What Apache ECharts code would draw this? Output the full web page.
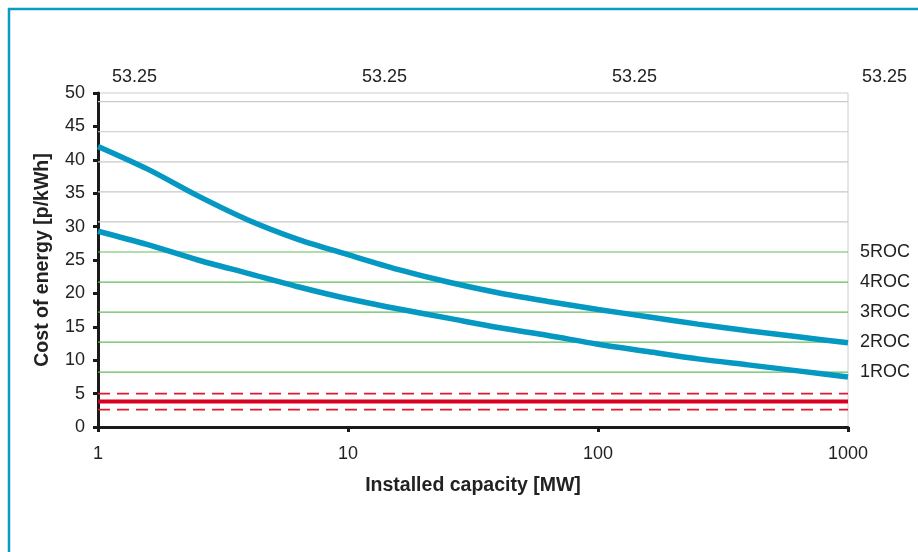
<!DOCTYPE html>
<html>
<head>
<meta charset="utf-8">
<script src="https://cdn.jsdelivr.net/npm/echarts@6/dist/echarts.min.js"></script>
<style>
  html, body { margin: 0; padding: 0; background: #fff; }
  #chart { width: 918px; height: 552px; }
</style>
</head>
<body>
<div id="chart"></div>
<script>
// data
var capacity = [1, 1.58, 2.51, 3.98, 6.31, 10, 15.8, 25.1, 39.8, 63.1, 100, 158, 251, 398, 631, 1000];
var costHigh = [42.0, 38.6, 34.6, 31.0, 28.1, 25.8, 23.6, 21.7, 20.1, 18.8, 17.6, 16.5, 15.4, 14.4, 13.5, 12.6];
var costLow = [29.3, 27.3, 25.0, 23.0, 21.0, 19.2, 17.7, 16.3, 14.9, 13.7, 12.4, 11.3, 10.2, 9.3, 8.4, 7.5];
var rocLevels = [8.2, 12.7, 17.2, 21.7, 26.2];
var rocNames = ["1ROC", "2ROC", "3ROC", "4ROC", "5ROC"];
var greyLevels = [30.7, 35.2, 39.7, 44.2, 48.7];
var priceMid = 3.8;
var priceBand = [5.0, 2.6];
var topLabels = ["53.25", "53.25", "53.25", "53.25"];
var xRange = [1, 1000];

(function () {
  var myChart = echarts.init(document.getElementById("chart"));
  var font = "'Liberation Sans', Arial, sans-serif";

  function pairs(xs, ys) {
    return xs.map(function (x, i) { return [x, ys[i]]; });
  }
  function flat(v) {
    return [[xRange[0], v], [xRange[1], v]];
  }

  var series = [];
  // unlabelled grey levels
  greyLevels.forEach(function (v) {
    series.push({
      type: "line", silent: true, symbol: "none", data: flat(v),
      lineStyle: { color: "#c9c9c9", width: 1.2 }
    });
  });
  // ROC levels, labelled on the right
  rocLevels.forEach(function (v, i) {
    series.push({
      type: "line", silent: true, symbol: "none", data: flat(v),
      lineStyle: { color: "#62bd5a", width: 1.2 },
      endLabel: {
        show: true, formatter: rocNames[i], distance: 12,
        color: "#222", fontSize: 18, fontFamily: font
      }
    });
  });
  // price band
  priceBand.forEach(function (v) {
    series.push({
      type: "line", silent: true, symbol: "none", data: flat(v),
      lineStyle: { color: "#dd1a2e", width: 1.6, type: [12, 7] }
    });
  });
  series.push({
    type: "line", silent: true, symbol: "none", data: flat(priceMid),
    lineStyle: { color: "#d9001f", width: 4 }
  });
  // cost curves
  [costHigh, costLow].forEach(function (ys) {
    series.push({
      type: "line", smooth: 0.3, symbol: "none", data: pairs(capacity, ys),
      lineStyle: { color: "#0498c2", width: 5.5 }
    });
  });

  var option = {
    animation: false,
    grid: {
      left: 98, right: 70, top: 93, bottom: 125,
      show: true, borderColor: "#cccccc", borderWidth: 1
    },
    graphic: [{
      type: "rect", silent: true,
      shape: { x: 9, y: 9, width: 1200, height: 1200 },
      style: { fill: "none", stroke: "#0a9cc7", lineWidth: 2.5 }
    }],
    xAxis: [{
      type: "log", min: xRange[0], max: xRange[1], logBase: 10,
      name: "Installed capacity [MW]", nameLocation: "middle", nameGap: 49,
      nameTextStyle: { color: "#222", fontSize: 19.5, fontWeight: "bold", fontFamily: font },
      axisLine: { onZero: false, lineStyle: { color: "#1a1a1a", width: 3 } },
      axisTick: { show: true, length: 5, lineStyle: { color: "#1a1a1a", width: 3 } },
      axisLabel: {
        color: "#222", fontSize: 18, fontFamily: font, margin: 18,
        formatter: function (v) { return String(v); }
      },
      splitLine: { show: false },
      minorTick: { show: false }
    }, {
      type: "log", position: "top", min: xRange[0], max: xRange[1], logBase: 10,
      axisLine: { show: false },
      axisTick: { show: false },
      splitLine: { show: false },
      axisLabel: {
        color: "#222", fontSize: 18, fontFamily: font, margin: 7,
        align: "left", padding: [0, 0, 0, 14],
        formatter: function (v, i) { return topLabels[i]; }
      }
    }],
    yAxis: {
      type: "value", min: 0, max: 50, interval: 5,
      name: "Cost of energy [p/kWh]", nameLocation: "middle", nameGap: 45,
      nameTextStyle: { color: "#222", fontSize: 19.5, fontWeight: "bold", fontFamily: font },
      axisLine: { show: true, lineStyle: { color: "#1a1a1a", width: 3 } },
      axisTick: { show: true, length: 5, lineStyle: { color: "#1a1a1a", width: 3 } },
      axisLabel: { color: "#222", fontSize: 18, fontFamily: font, margin: 13 },
      splitLine: { show: false }
    },
    series: series
  };

  myChart.setOption(option);
  window.addEventListener("resize", function () {
    myChart.resize();
  });
})();
</script>
</body>
</html>
